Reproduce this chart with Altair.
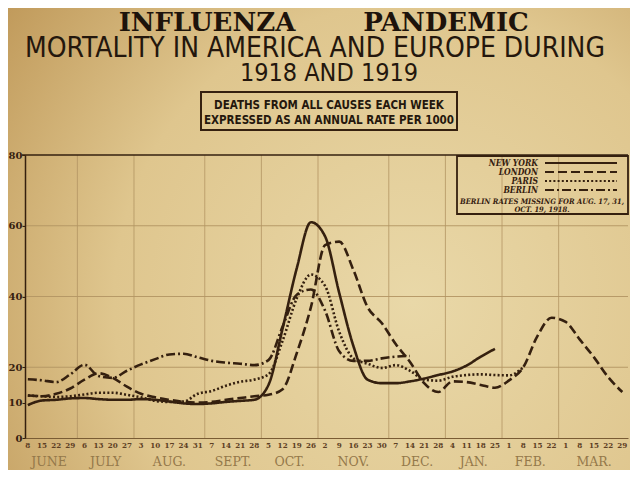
import altair as alt
import pandas as pd

# ---------------- data ----------------
week_index = list(range(43))
tick_days = [8, 15, 22, 29, 6, 13, 20, 27, 3, 10, 17, 24, 31, 7, 14, 21, 28,
             5, 12, 19, 26, 2, 9, 16, 23, 30, 7, 14, 21, 28, 4, 11, 18, 25,
             1, 8, 15, 22, 1, 8, 15, 22, 29]
months = ["JUNE", "JULY", "AUG.", "SEPT.", "OCT.", "NOV.", "DEC.", "JAN.", "FEB.", "MAR."]
month_centers = [1.5, 5.5, 10, 14.5, 18.5, 23, 27.5, 31.5, 35.5, 40]
month_bounds = [3.5, 7.5, 12.5, 16.5, 20.5, 25.5, 29.5, 33.5, 37.5]
grid_levels = [20, 40, 60]
y_ticks = [0, 10, 20, 40, 60, 80]

cities = ["NEW YORK", "LONDON", "PARIS", "BERLIN"]
new_york = [9.3, 10.6, 10.8, 11.2, 11.3, 11.0, 10.8, 10.8, 11.0, 10.8, 10.3, 9.8,
            9.6, 9.8, 10.2, 10.5, 10.8, 15.0, 31.0, 48.0, 61.0, 57.0, 41.0, 26.0,
            16.5, 15.5, 15.5, 16.0, 16.8, 17.8, 18.8, 20.5, 23.0, 25.2]
london = [12.0, 11.8, 12.5, 14.0, 16.5, 18.3, 17.0, 14.5, 12.5, 11.5, 10.8, 10.2,
          10.0, 10.2, 10.8, 11.3, 11.8, 12.2, 13.8, 24.0, 37.0, 54.5, 55.5, 47.5,
          37.0, 32.5, 26.5, 21.5, 15.5, 13.0, 16.0, 15.8, 15.0, 14.2, 16.3, 20.0,
          28.8, 34.0, 32.8, 27.8, 22.8, 17.2, 13.0]
paris = [12.0, 11.8, 11.6, 11.8, 12.3, 12.8, 12.8, 12.2, 11.5, 10.5, 10.2, 10.3,
         12.5, 13.3, 14.8, 15.9, 16.5, 18.0, 27.5, 39.5, 46.2, 43.0, 30.0, 22.5,
         21.0, 19.8, 20.6, 19.0, 16.5, 16.2, 17.3, 17.8, 18.0, 17.8, 17.7, 20.0]
berlin = [16.6, 16.3, 15.8, 18.0, 20.7, 17.5, 17.0, 19.0, 20.8, 22.3, 23.6, 23.8,
          22.8, 21.8, 21.3, 21.0, 20.6, 22.0, 31.5, 40.5, 42.0, 36.0, 24.5, 21.8,
          21.8, 22.5, 23.0, 23.2]
series = [new_york, london, paris, berlin]
dash_styles = [[1, 0], [9, 4], [2, 2.2], [9, 3, 2, 3]]

# ---------------- style ----------------
ink = "#35200f"
grid_col = "#b39563"
W, H = 603, 283

rows = []
for c, s in zip(cities, series):
    for i, v in enumerate(s):
        rows.append({"city": c, "week": week_index[i], "rate": v})
df = pd.DataFrame(rows)

xs = alt.Scale(domain=[-0.2, 42.4], nice=False, zero=False)
ys = alt.Scale(domain=[0, 80], nice=False)

x_axis = alt.Axis(labels=False, ticks=False, grid=False, domain=True,
                  domainColor="#7a5c34", domainWidth=1, title=None, zindex=1)
y_axis = alt.Axis(values=y_ticks, grid=False, title=None, domainColor=ink,
                  domainWidth=1.5, tickColor=ink, tickSize=3, zindex=1,
                  labelColor=ink, labelFont="DejaVu Serif",
                  labelFontWeight="bold", labelFontSize=10, labelPadding=0)

one = pd.DataFrame({"k": [0]})

# background paper with vignette
paper = alt.Chart(one).mark_rect(
    color=alt.RadialGradient(
        gradient="radial", x1=0.65, y1=0.6, r1=0.0, x2=0.65, y2=0.6, r2=0.8,
        stops=[alt.GradientStop(offset=0, color="#e9d8a8"),
               alt.GradientStop(offset=0.6, color="#dfc68e"),
               alt.GradientStop(offset=1, color="#c19b5c")])
).encode(x=alt.value(-17), x2=alt.value(605), y=alt.value(-147), y2=alt.value(315))

# month grid lines
vgrid = alt.Chart(pd.DataFrame({"b": month_bounds})).mark_rule(
    color=grid_col, strokeWidth=1, opacity=0.8
).encode(x=alt.X("b:Q", scale=xs, axis=x_axis), y=alt.value(0), y2=alt.value(H))

hgrid = alt.Chart(pd.DataFrame({"lv": grid_levels})).mark_rule(
    color=grid_col, strokeWidth=1.2, opacity=0.9
).encode(y=alt.Y("lv:Q", scale=ys, axis=y_axis), x=alt.value(-4), x2=alt.value(W))

top_rule = alt.Chart(one).mark_rule(color=ink, strokeWidth=1.6).encode(
    x=alt.value(-3), x2=alt.value(W), y=alt.value(0))

# series lines
lines = alt.Chart(df).mark_line(
    interpolate="monotone", color=ink, strokeWidth=2.6, strokeCap="butt"
).encode(
    x=alt.X("week:Q", scale=xs, axis=x_axis),
    y=alt.Y("rate:Q", scale=ys, axis=y_axis),
    strokeDash=alt.StrokeDash("city:N", scale=alt.Scale(domain=cities, range=dash_styles),
                              legend=None),
    detail="city:N",
)

# tick day labels and month labels
tick_df = pd.DataFrame({"week": week_index, "day": [str(d) for d in tick_days]})
tick_text = alt.Chart(tick_df).mark_text(
    font="DejaVu Serif Condensed", fontSize=8, fontWeight="bold", color="#5d4024",
    baseline="middle"
).encode(x=alt.X("week:Q", scale=xs, axis=x_axis), y=alt.value(H + 8), text="day:N")

month_df = pd.DataFrame({"c": month_centers, "m": months})
month_text = alt.Chart(month_df).mark_text(
    font="DejaVu Serif", fontSize=12.5, color="#94784a", baseline="middle"
).encode(x=alt.X("c:Q", scale=xs, axis=x_axis), y=alt.value(H + 24), text="m:N")

# titles
def txt(s, x, y, size, weight="normal", font="DejaVu Serif", color=ink, align="center",
        style="normal", baseline="alphabetic"):
    return alt.Chart(pd.DataFrame({"t": [s]})).mark_text(
        font=font, fontSize=size, fontWeight=weight, color=color, align=align,
        fontStyle=style, baseline=baseline
    ).encode(text="t:N", x=alt.value(x), y=alt.value(y))

t1 = txt("INFLUENZA", 182, -124, 26, "bold", color="#1d130b")
t2 = txt("PANDEMIC", 421, -124, 26, "bold", color="#1d130b")
t3 = txt("MORTALITY IN AMERICA AND EUROPE DURING", 290, -98, 28,
         font="DejaVu Sans Condensed", color="#24170d")
t4 = txt("1918 AND 1919", 304, -74, 25, font="DejaVu Sans Condensed", color="#24170d")

box = alt.Chart(one).mark_rect(fill=None, stroke=ink, strokeWidth=2).encode(
    x=alt.value(176), x2=alt.value(432), y=alt.value(-63), y2=alt.value(-25))
b1 = txt("DEATHS FROM ALL CAUSES EACH WEEK", 304, -46, 11.5, "bold",
         font="DejaVu Sans Condensed", color="#24170d")
b2 = txt("EXPRESSED AS AN ANNUAL RATE PER 1000", 304, -31, 11.5, "bold",
         font="DejaVu Sans Condensed", color="#24170d")

# legend box
leg_box = alt.Chart(one).mark_rect(fill=None, stroke=ink, strokeWidth=1.8).encode(
    x=alt.value(432), x2=alt.value(603), y=alt.value(1), y2=alt.value(59))
leg_layers = []
for k, (c, d) in enumerate(zip(cities, dash_styles)):
    yk = 8 + k * 9
    leg_layers.append(txt(c, 513, yk + 3, 8.5, "bold", font="DejaVu Serif Condensed",
                          align="right", style="italic"))
    leg_layers.append(alt.Chart(one).mark_rule(color=ink, strokeWidth=2.2, strokeDash=d)
                      .encode(x=alt.value(520), x2=alt.value(592), y=alt.value(yk)))
n1 = txt("BERLIN RATES MISSING FOR  AUG. 17, 31,", 517, 49, 7.5, "bold",
         font="DejaVu Serif Condensed", style="italic")
n2 = txt("OCT. 19, 1918.", 517, 57, 7.5, "bold", font="DejaVu Serif Condensed",
         style="italic")

chart = alt.layer(
    paper, vgrid, hgrid, top_rule, lines, tick_text, month_text,
    t1, t2, t3, t4, box, b1, b2, leg_box, *leg_layers, n1, n2
).properties(
    width=W, height=H,
    autosize=alt.AutoSizeParams(type="none"),
    padding={"left": 17, "top": 147, "right": 2, "bottom": 32},
    background="#d9bd83",
).configure_view(strokeWidth=0)

chart.save("out.html", embed_options={"renderer": "svg", "actions": False})
